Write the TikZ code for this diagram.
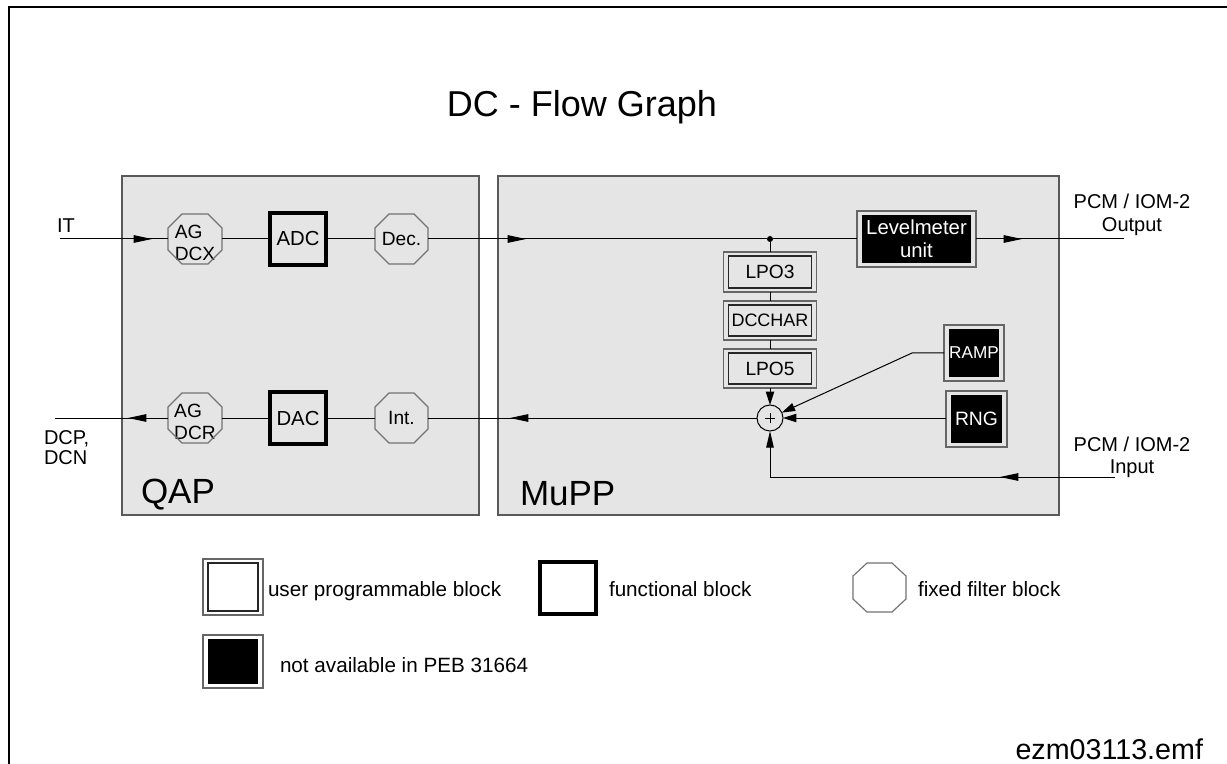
\documentclass[tikz,border=0pt]{standalone}
\usepackage{fontspec}
\setmainfont{Liberation Sans}
\usetikzlibrary{arrows.meta,calc,decorations.markings}
\begin{document}
\begin{tikzpicture}[x=0.6pt,y=-0.6pt,
  every node/.style={inner sep=0pt,outer sep=0pt},
  ln/.style={line width=0.6pt},
  fnt/.style={font=\fontsize{11.5}{13.2}\selectfont},
  panel/.style={draw=black!65,fill=black!10,line width=0.8pt,minimum height=203.4pt},
  octnode/.style={minimum width=#1,minimum height=30pt},
  octtext/.style={fnt,align=left,yshift=-2.4pt},
  octline/.style={draw=black!55,line width=0.7pt},
  thickbox/.style={draw=black,line width=2.4pt,font=\fontsize{12.2}{14}\selectfont,minimum width=33.6pt,minimum height=31.2pt},
  dbox/.style={draw=black!60,line width=0.7pt,fnt,
    path picture={\draw[black!85,line width=0.7pt]
      ([xshift=3pt,yshift=-2.4pt]path picture bounding box.north west) rectangle
      ([xshift=-3pt,yshift=2.4pt]path picture bounding box.south east);}},
  blackbox/.style={draw=black!60,line width=0.7pt,fnt,text=white,
    path picture={\fill[black]
      ([xshift=3pt,yshift=-2.4pt]path picture bounding box.north west) rectangle
      ([xshift=-3pt,yshift=2.4pt]path picture bounding box.south east);}},
  sumnode/.style={circle,draw=black,line width=0.6pt,minimum size=15.6pt,
    path picture={\draw[line width=0.5pt]
      ([xshift=-3pt]path picture bounding box.center) -- ([xshift=3pt]path picture bounding box.center)
      ([yshift=-3pt]path picture bounding box.center) -- ([yshift=3pt]path picture bounding box.center);}},
  lbl/.style={font=\fontsize{12}{13.8}\selectfont},
  leg/.style={font=\fontsize{12.4}{14}\selectfont,anchor=base west},
  big/.style={font=\fontsize{21}{24}\selectfont,anchor=base west},
  midarrow/.style={postaction={decorate},decoration={markings,
    mark=at position #1 with {\arrow{Triangle[length=11pt,width=4.5pt]}}}},
  sumtip/.style={-{Triangle[length=8pt,width=5pt]}}
]
\useasboundingbox (0,0) rectangle (1227,764);
\fill[white] (0,0) rectangle (1227,764);
% outer frame
\draw[line width=1.2pt] (9,7) rectangle (1240,780);

% title
\node[font=\fontsize{21.6}{24}\selectfont,anchor=base] (title) at (582,117) {DC - Flow Graph};

% panels
\node[panel,minimum width=214.2pt] (qap) at (300.5,345.5) {};
\node[panel,minimum width=336.6pt] (mupp) at (778.5,345.5) {};
\node[big] (qaplbl) at (141,503) {QAP};
\node[big] (mupplbl) at (520,505) {MuPP};

% top row
\node[octnode=32.4pt,label={[octtext]center:AG\\DCX}] (agx) at (195,239) {};
\node[thickbox] (adc) at (298,239) {ADC};
\node[octnode=31.8pt,fnt] (dec) at (401.5,239) {Dec.};
\node[circle,fill=black,minimum size=3.6pt] (dot) at (770,239) {};
\node[blackbox,minimum width=71.4pt,minimum height=33.6pt,align=center,
      font=\fontsize{12.2}{13.8}\selectfont] (lev) at (916.5,239) {Levelmeter\\unit};

% vertical chain
\node[dbox,minimum width=55.8pt,minimum height=24pt] (lpo3) at (770,272) {LPO3};
\node[dbox,minimum width=55.8pt,minimum height=23.4pt,font=\fontsize{10.8}{12}\selectfont] (dcchar) at (770,320.5) {DCCHAR};
\node[dbox,minimum width=55.8pt,minimum height=23.4pt] (lpo5) at (770,368.5) {LPO5};
\node[sumnode] (sum) at (770,418) {};
\node[blackbox,minimum width=36pt,minimum height=33.6pt,font=\fontsize{10.3}{12}\selectfont] (ramp) at (974,353) {RAMP};
\node[blackbox,minimum width=36.6pt,minimum height=33.6pt,font=\fontsize{11.6}{13}\selectfont] (rng) at (976.5,419) {RNG};

% bottom row
\node[octnode=32.4pt,label={[octtext]center:AG\\DCR}] (agr) at (195,418) {};
\node[thickbox] (dac) at (298,418) {DAC};
\node[octnode=31.8pt,fnt] (int) at (401.5,418) {Int.};

% free ends
\coordinate (itin) at (60,239);
\coordinate (outo) at (1124,239);
\coordinate (inpt) at (1115,477);
\coordinate (rampbend) at (912,353);
\coordinate (dcout) at (55,418);

% octagon outlines
\foreach \n in {agx,dec,agr,int}{
  \draw[octline] ($(\n.north west)+(14,0)$) -- ($(\n.north east)+(-14,0)$)
    -- ($(\n.north east)+(0,14)$) -- ($(\n.south east)+(0,-14)$)
    -- ($(\n.south east)+(-14,0)$) -- ($(\n.south west)+(14,0)$)
    -- ($(\n.south west)+(0,-14)$) -- ($(\n.north west)+(0,14)$) -- cycle;
}

% connectors
\draw[ln,midarrow=55.2pt] (itin) -- (agx.west);
\draw[ln] (agx.east) -- (adc.west);
\draw[ln] (adc.east) -- (dec.west);
\draw[ln,midarrow=58.8pt] (dec.east) -- (dot);
\draw[ln] (dot) -- (lev.west);
\draw[ln,midarrow=27.6pt] (lev.east) -- (outo);
\draw[ln] (dot) -- (lpo3.north);
\draw[ln] (lpo3.south) -- (dcchar.north);
\draw[ln] (dcchar.south) -- (lpo5.north);
\draw[ln,sumtip] (lpo5.south) -- (sum.north);
\draw[ln,sumtip] (ramp.west) -- (rampbend) -- (sum);
\draw[ln,sumtip] (rng.west |- sum.east) -- (sum.east);
\draw[ln,-{Triangle[length=10pt,width=4.5pt]},midarrow=69pt] (inpt) -| (sum.south);
\draw[ln,midarrow=148.2pt] (sum.west) -- (int.east);
\draw[ln] (int.west) -- (dac.east);
\draw[ln] (dac.west) -- (agr.east);
\draw[ln,midarrow=24pt] (agr.west) -- (dcout);

% outside labels
\node[lbl,anchor=base west] (itlbl) at (57,233) {IT};
\node[lbl,anchor=west,align=left,font=\fontsize{12}{12}\selectfont] (dcplbl) at (44,448) {DCP,\\DCN};
\node[lbl,anchor=north,align=center] (outlbl) at (1132,194) {PCM / IOM-2\\Output};
\node[lbl,anchor=north,align=center,font=\fontsize{12}{13.4}\selectfont] (inlbl) at (1132,437) {PCM / IOM-2\\Input};

% legend
\node[draw=black!60,fill=white,line width=0.7pt,minimum width=36pt,minimum height=33.6pt,
  path picture={\draw[black!85,line width=0.7pt]
      ([xshift=3pt,yshift=-2.4pt]path picture bounding box.north west) rectangle
      ([xshift=-3pt,yshift=2.4pt]path picture bounding box.south east);}] (lu) at (233,587) {};
\node[leg] (lutxt) at (268,596) {user programmable block};
\node[thickbox,fill=white] (lf) at (568,588) {};
\node[leg] (lftxt) at (609,596) {functional block};
\node[minimum width=31.8pt,minimum height=29.4pt] (lo) at (879.5,587.5) {};
\draw[octline] ($(lo.north west)+(14,0)$) -- ($(lo.north east)+(-14,0)$)
    -- ($(lo.north east)+(0,13)$) -- ($(lo.south east)+(0,-13)$)
    -- ($(lo.south east)+(-14,0)$) -- ($(lo.south west)+(14,0)$)
    -- ($(lo.south west)+(0,-13)$) -- ($(lo.north west)+(0,13)$) -- cycle;
\node[leg] (lotxt) at (918,596) {fixed filter block};
\node[blackbox,minimum width=36pt,minimum height=31.8pt] (lnb) at (233,661.5) {};
\node[leg] (lntxt) at (280,672) {not available in PEB 31664};

% file name
\node[font=\fontsize{17.2}{20}\selectfont,anchor=base east] (fname) at (1203,759) {ezm03113.emf};
\end{tikzpicture}
\end{document}
